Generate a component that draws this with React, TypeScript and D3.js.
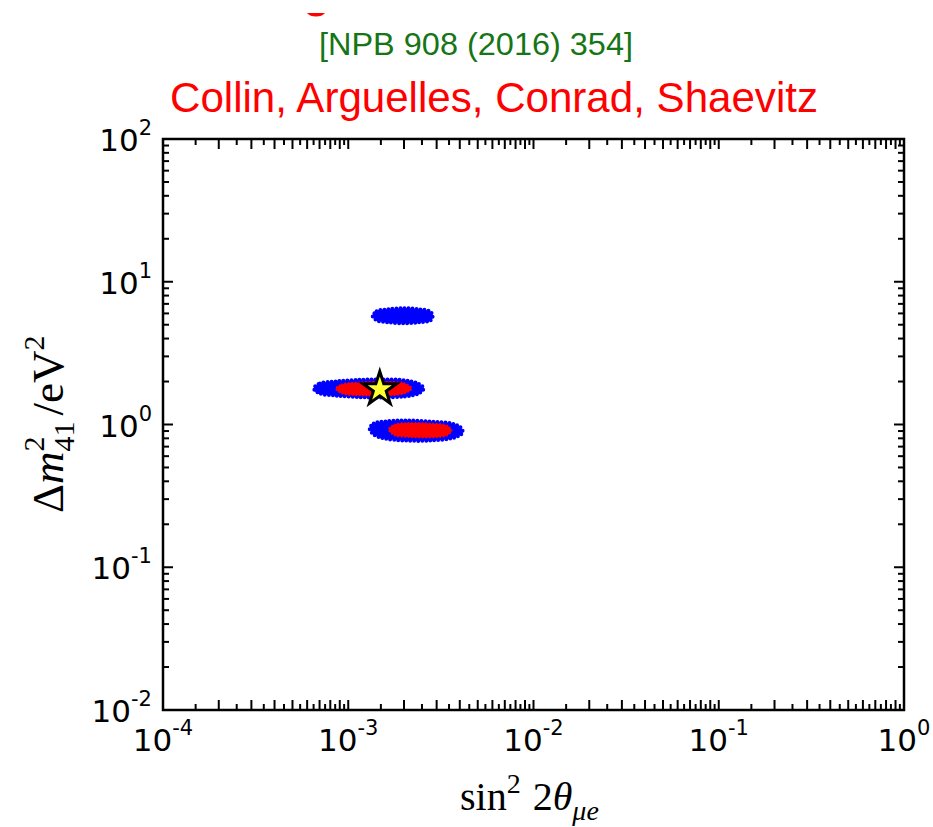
import React from "react";
import * as d3 from "d3";

// ---- data ----
const X_EXPONENTS = [-4, -3, -2, -1, 0];
const Y_EXPONENTS = [-2, -1, 0, 1, 2];
const X_TICK_LABELS = ["-4", "-3", "-2", "-1", "0"];
const Y_TICK_LABELS = ["-2", "-1", "0", "1", "2"];

// allowed regions: [sin^2 2theta, dm^2 (eV^2)] outline points
const blueUpper: [number, number][] = [
  [1.355e-3, 5.73], [1.424e-3, 6.21], [1.633e-3, 6.41], [2.016e-3, 6.52],
  [2.429e-3, 6.41], [2.75e-3, 6.21], [2.854e-3, 5.82], [2.784e-3, 5.37],
  [2.429e-3, 5.2], [2.016e-3, 5.12], [1.633e-3, 5.2], [1.424e-3, 5.37],
];
const blueMiddle: [number, number][] = [
  [6.52e-4, 1.79], [7.02e-4, 1.94], [8.46e-4, 2.0], [1.084e-3, 2.05],
  [1.478e-3, 2.07], [2.016e-3, 2.04], [2.369e-3, 1.94], [2.553e-3, 1.79],
  [2.399e-3, 1.65], [2.016e-3, 1.573], [1.478e-3, 1.547], [1.084e-3, 1.56],
  [8.46e-4, 1.598], [7.02e-4, 1.65],
];
const redMiddle: [number, number][] = [
  [8.56e-4, 1.79], [9.23e-4, 1.91], [1.153e-3, 1.97], [1.573e-3, 1.99],
  [2.016e-3, 1.94], [2.199e-3, 1.79], [2.016e-3, 1.65], [1.573e-3, 1.6],
  [1.153e-3, 1.6], [9.23e-4, 1.65],
];
const blueLower: [number, number][] = [
  [1.305e-3, 0.937], [1.372e-3, 1.016], [1.573e-3, 1.05], [2.016e-3, 1.067],
  [2.75e-3, 1.05], [3.614e-3, 1.016], [4.04e-3, 0.953], [4.143e-3, 0.879],
  [3.75e-3, 0.811], [2.75e-3, 0.772], [2.016e-3, 0.772], [1.573e-3, 0.798],
  [1.372e-3, 0.851],
];
const redLower: [number, number][] = [
  [1.653e-3, 0.922], [1.781e-3, 1.0], [2.145e-3, 1.024], [2.75e-3, 1.016],
  [3.4e-3, 0.984], [3.614e-3, 0.908], [3.4e-3, 0.837], [2.75e-3, 0.811],
  [2.145e-3, 0.817], [1.781e-3, 0.837],
];
const BLUE_REGIONS = [blueUpper, blueMiddle, blueLower];
const RED_REGIONS = [redMiddle, redLower];
const BEST_FIT: [number, number] = [1.48e-3, 1.77];

const SUBTITLE = "[NPB 908 (2016) 354]";
const TITLE = "Collin, Arguelles, Conrad, Shaevitz";

export default function App() {
  const L = 163, R = 904, T = 139, B = 710;
  const x = d3.scaleLog().domain([1e-4, 1]).range([L, R]);
  const y = d3.scaleLog().domain([1e-2, 1e2]).range([B, T]);
  const line = d3
    .line<[number, number]>()
    .x((d) => x(d[0]))
    .y((d) => y(d[1]))
    .curve(d3.curveCatmullRomClosed.alpha(0.5));

  // x ticks: every integer (long) and half-integer (short) multiple in each decade
  const xLong: number[] = [];
  const xShort: number[] = [];
  X_EXPONENTS.forEach((e) => {
    const p = Math.pow(10, e);
    xLong.push(p);
    if (e < 0) {
      for (let k = 2; k <= 9; k++) xLong.push(k * p);
      for (let k = 1; k <= 9; k++) xShort.push((k + 0.5) * p);
    }
  });
  const yLong: number[] = [];
  const yShort: number[] = [];
  Y_EXPONENTS.forEach((e) => {
    const p = Math.pow(10, e);
    yLong.push(p);
    if (e < 2) for (let k = 2; k <= 9; k++) yShort.push(k * p);
  });

  const starPath = d3.symbol().type(d3.symbolStar).size(350)() as string;
  const tickW = 2;
  const labelFont = "DejaVu Sans, sans-serif";
  const mathFont = "Liberation Serif, serif";

  return (
    <svg
      width={933}
      height={827}
      style={{ position: "absolute", left: 0, top: 0, background: "#fff" }}
    >
      {/* cut-off glyph of a line above */}
      <path d="M307,13 L325,13 Q322,16.5 316,16.5 Q310,16.5 307,13 Z" fill="#ff0000" />
      <text
        x={476}
        y={55}
        textAnchor="middle"
        fontFamily="Liberation Sans, Arial, sans-serif"
        fontSize={31}
        fill="#167516"
        textLength={314}
        lengthAdjust="spacingAndGlyphs"
      >
        {SUBTITLE}
      </text>
      <text
        x={494}
        y={112}
        textAnchor="middle"
        fontFamily="Liberation Sans, Arial, sans-serif"
        fontSize={42}
        fill="#ff0000"
        textLength={648}
        lengthAdjust="spacingAndGlyphs"
      >
        {TITLE}
      </text>

      {/* regions */}
      {BLUE_REGIONS.map((r, i) => (
        <path
          key={"b" + i}
          d={line(r) as string}
          fill="#0000ff"
          stroke="#0000ff"
          strokeWidth={4}
          strokeDasharray="0 4"
          strokeLinecap="round"
        />
      ))}
      {RED_REGIONS.map((r, i) => (
        <path
          key={"r" + i}
          d={line(r) as string}
          fill="#ff0000"
          stroke="#ff0000"
          strokeWidth={2}
          strokeDasharray="0 3.5"
          strokeLinecap="round"
        />
      ))}
      <path
        d={starPath}
        transform={`translate(${x(BEST_FIT[0])},${y(BEST_FIT[1])})`}
        fill="#ffff33"
        stroke="#000"
        strokeWidth={3}
        strokeLinejoin="miter"
      />

      {/* ticks */}
      <g stroke="#000" strokeWidth={tickW}>
        {xLong.map((v, i) => (
          <g key={"xl" + i}>
            <line x1={x(v)} x2={x(v)} y1={B} y2={B - 10} />
            <line x1={x(v)} x2={x(v)} y1={T} y2={T + 10} />
          </g>
        ))}
        {xShort.map((v, i) => (
          <g key={"xs" + i}>
            <line x1={x(v)} x2={x(v)} y1={B} y2={B - 6} />
            <line x1={x(v)} x2={x(v)} y1={T} y2={T + 6} />
          </g>
        ))}
        {yLong.map((v, i) => (
          <g key={"yl" + i}>
            <line x1={L} x2={L + 10} y1={y(v)} y2={y(v)} />
            <line x1={R} x2={R - 10} y1={y(v)} y2={y(v)} />
          </g>
        ))}
        {yShort.map((v, i) => (
          <g key={"ys" + i}>
            <line x1={L} x2={L + 6} y1={y(v)} y2={y(v)} />
            <line x1={R} x2={R - 6} y1={y(v)} y2={y(v)} />
          </g>
        ))}
      </g>
      <rect x={L} y={T} width={R - L} height={B - T} fill="none" stroke="#000" strokeWidth={2.5} />

      {/* tick labels */}
      {X_EXPONENTS.map((e, i) => (
        <text
          key={"xt" + i}
          x={x(Math.pow(10, e))}
          y={751}
          textAnchor="middle"
          fontFamily={labelFont}
          fontSize={31}
          fill="#000"
        >
          10
          <tspan fontSize={21} dy={-16}>
            {X_TICK_LABELS[i]}
          </tspan>
        </text>
      ))}
      {Y_EXPONENTS.map((e, i) => (
        <text
          key={"yt" + i}
          x={152}
          y={y(Math.pow(10, e)) + 12}
          textAnchor="end"
          fontFamily={labelFont}
          fontSize={31}
          fill="#000"
        >
          10
          <tspan fontSize={21} dy={-16}>
            {Y_TICK_LABELS[i]}
          </tspan>
        </text>
      ))}

      {/* axis labels */}
      <text x={460} y={810} fontFamily={mathFont} fontSize={40} fill="#000">
        sin
        <tspan fontSize={28} dy={-17}>2</tspan>
        <tspan dy={17} dx={12}>2</tspan>
        <tspan fontStyle="italic">θ</tspan>
        <tspan fontSize={28} fontStyle="italic" dy={10}>μe</tspan>
      </text>
      <text
        transform="translate(63,513) rotate(-90)"
        x={0}
        y={0}
        fontFamily={mathFont}
        fontSize={45}
        fill="#000"
      >
        Δ
        <tspan fontStyle="italic">m</tspan>
        <tspan fontSize={30} dy={-19}>2</tspan>
        <tspan fontSize={30} dx={-15} dy={30}>41</tspan>
        <tspan dy={-11} dx={6}>/eV</tspan>
        <tspan fontSize={30} dy={-19}>2</tspan>
      </text>
    </svg>
  );
}
